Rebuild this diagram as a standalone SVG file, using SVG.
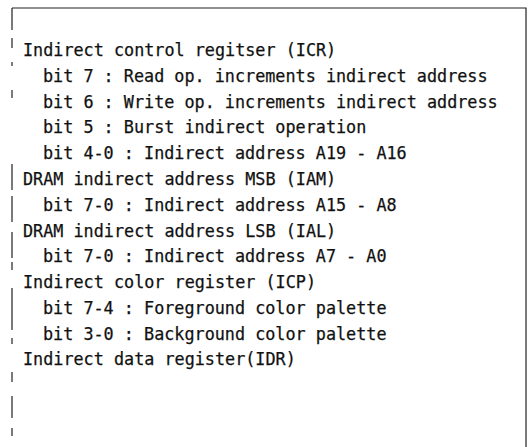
<svg xmlns="http://www.w3.org/2000/svg" width="530" height="447" viewBox="0 0 530 447">
<style>
text{font-family:"DejaVu Sans Mono","Liberation Mono",monospace;font-size:16.8px;fill:#111;stroke:#111;stroke-width:0.25}
.b{stroke:#222;stroke-width:1.2;fill:none}
</style>
<rect width="530" height="447" fill="#fff"/>
<g id="frame">
<path class="b" d="M12,8 H526 V447"/>
<path class="b" d="M12,8 V30 M12,38 V48 M12,62 V66 M12,90 V98 M12,164 V190 M12,196 V222 M12,232 V258 M12,262 V270 M12,288 V330 M12,338 V344 M12,372 V382 M12,396 V418 M12,428 V436"/>
</g>
<g id="text">
<text x="23" y="55.5">Indirect control regitser (ICR)</text>
<text x="43" y="81.5">bit 7 : Read op. increments indirect address</text>
<text x="43" y="107.5">bit 6 : Write op. increments indirect address</text>
<text x="43" y="133">bit 5 : Burst indirect operation</text>
<text x="43" y="159">bit 4-0 : Indirect address A19 - A16</text>
<text x="23" y="185">DRAM indirect address MSB (IAM)</text>
<text x="43" y="211">bit 7-0 : Indirect address A15 - A8</text>
<text x="23" y="237">DRAM indirect address LSB (IAL)</text>
<text x="43" y="262">bit 7-0 : Indirect address A7 - A0</text>
<text x="23" y="288">Indirect color register (ICP)</text>
<text x="43" y="314">bit 7-4 : Foreground color palette</text>
<text x="43" y="340">bit 3-0 : Background color palette</text>
<text x="23" y="365">Indirect data register(IDR)</text>
</g>
</svg>
